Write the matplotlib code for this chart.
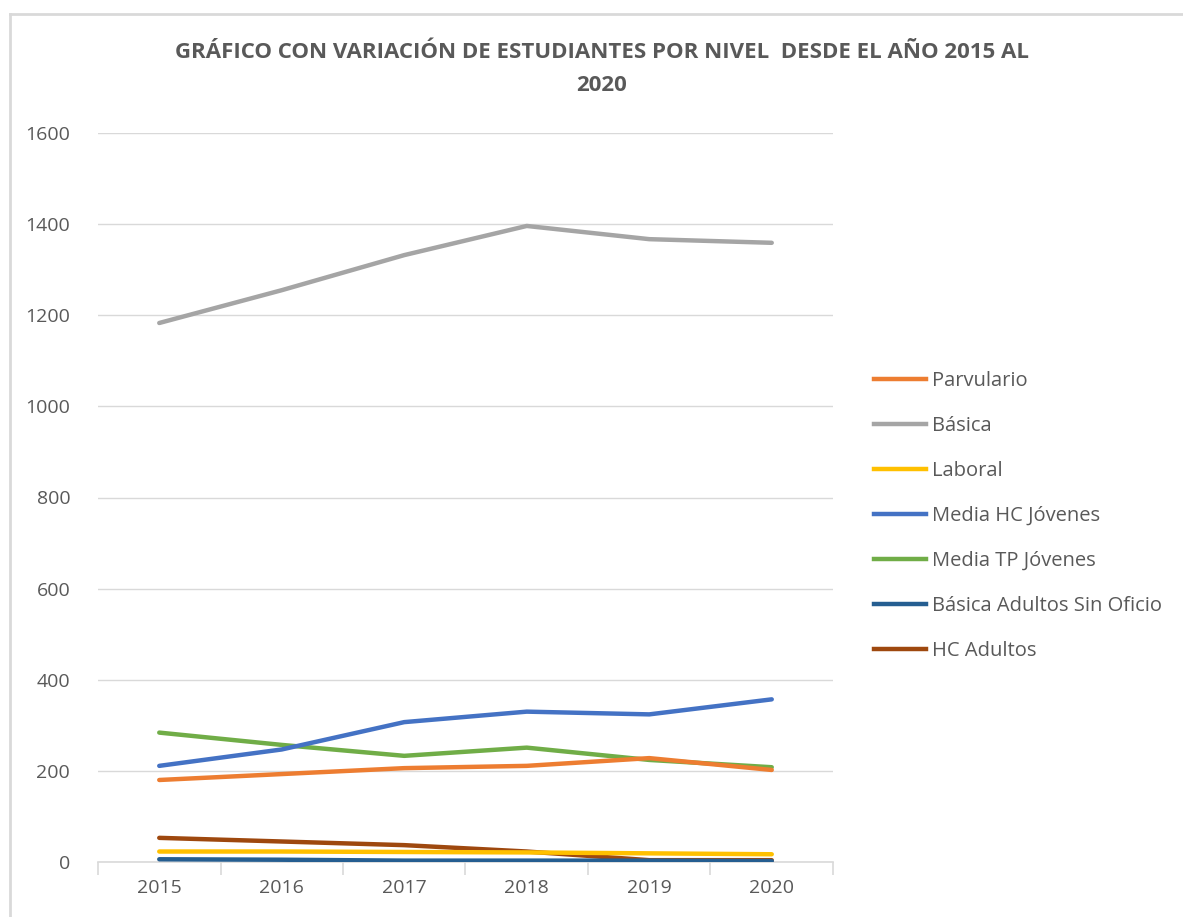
import matplotlib.pyplot as plt
from matplotlib.lines import Line2D

years = ["2015", "2016", "2017", "2018", "2019", "2020"]

parvulario = [180, 193, 206, 211, 228, 202]
basica = [1183, 1255, 1332, 1396, 1367, 1359]
laboral = [23, 23, 22, 21, 19, 17]
media_hc = [211, 247, 307, 330, 324, 357]
media_tp = [284, 257, 233, 251, 224, 208]
basica_adultos = [6, 5, 3, 3, 3, 2]
hc_adultos = [53, 45, 37, 23, 4, 4]

names = ["Parvulario", "Básica", "Laboral", "Media HC Jóvenes",
         "Media TP Jóvenes", "Básica Adultos Sin Oficio", "HC Adultos"]
series = [parvulario, basica, laboral, media_hc, media_tp, basica_adultos, hc_adultos]
colors = ["#ED7D31", "#A5A5A5", "#FFC000", "#4472C4", "#70AD47", "#255E91", "#9E480E"]

plt.rcParams['font.family'] = ['Open Sans', 'DejaVu Sans']
text_col = "#595959"

fig = plt.figure(figsize=(11.83, 9.17), dpi=100)
# chart frame (top and left edges visible)
fig.add_artist(Line2D([10/1183, 10/1183], [0, 1 - 14/917], color="#d9d9d9", lw=2))
fig.add_artist(Line2D([10/1183, 1], [1 - 14/917, 1 - 14/917], color="#d9d9d9", lw=2))

ax = fig.add_axes([98/1183, 1 - 862/917, (833 - 98)/1183, (862 - 133)/917])

x = list(range(len(years)))
order = [4, 3, 0, 1, 6, 2, 5]
for i in order:
    ax.plot(x, series[i], color=colors[i], lw=3.2, solid_capstyle="round", zorder=3)

ax.set_xlim(-0.5, 5.5)
ax.set_ylim(0, 1600)
ax.set_yticks(range(0, 1601, 200))
ax.grid(axis="y", color="#d9d9d9", lw=1)
ax.set_axisbelow(True)
for s in ["top", "right", "left"]:
    ax.spines[s].set_visible(False)
ax.spines["bottom"].set_color("#d9d9d9")
ax.spines["bottom"].set_linewidth(1.2)

ax.set_xticks(x)
ax.set_xticklabels(years)
ax.set_xticks([i - 0.5 for i in range(len(years) + 1)], minor=True)
ax.tick_params(axis="x", which="major", length=0, pad=12, labelsize=14, colors=text_col)
ax.tick_params(axis="x", which="minor", length=9, color="#d9d9d9", width=1.2)
ax.tick_params(axis="y", length=0, pad=20, labelsize=14, colors=text_col)

fig.text(602/1183, 1 - 69/917,
         "GRÁFICO CON VARIACIÓN DE ESTUDIANTES POR NIVEL  DESDE EL AÑO 2015 AL\n2020",
         ha="center", va="center", fontsize=16, fontweight="bold", color=text_col,
         linespacing=1.7)

handles = [Line2D([0], [0], color=c, lw=3.2) for c in colors]
leg = fig.legend(handles, names, loc="upper left",
                 bbox_to_anchor=(856/1183, 1 - 353/917), frameon=False,
                 fontsize=14.5, handlelength=2.6, handletextpad=0.25,
                 labelspacing=1.24, labelcolor=text_col)

fig.savefig("out.png", dpi=100)
